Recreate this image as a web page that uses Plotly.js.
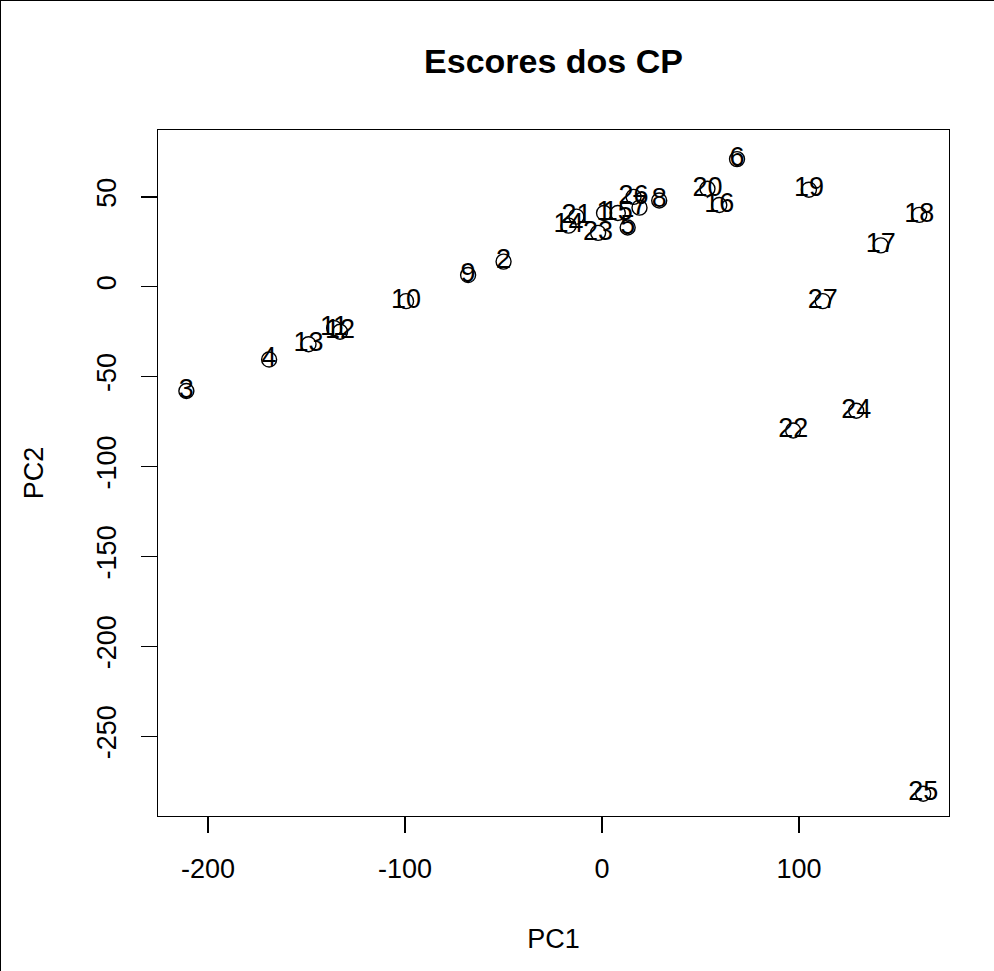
<!DOCTYPE html>
<html>
<head>
<meta charset="utf-8">
<script src="https://cdn.plot.ly/plotly-3.0.1.min.js"></script>
<style>
html,body{margin:0;padding:0;background:#fff;}
#chart{width:994px;height:971px;box-sizing:border-box;border:1px solid #000;}
</style>
</head>
<body>
<div id="chart"></div>
<script>
const labels = ["1","2","3","4","5","6","7","8","9","10","11","12","13","14","15","16","17","18","19","20","21","22","23","24","25","26","27"];
const pc1 = [1, -50, -211, -169, 13, 68.5, 19, 29, -68, -99.5, -136, -133, -149, -17, 8, 59.5, 141.5, 161, 105, 53.5, -13, 97, -2, 129, 163, 16, 112];
const pc2 = [41, 14, -58, -40.5, 33, 71, 44, 48, 6.5, -8, -23, -25, -32, 34, 41, 45.5, 23, 40, 54, 54.5, 39, -80, 30, -69, -282, 50, -8];
const xTicks = [-200, -100, 0, 100];
const yTicks = [-250, -200, -150, -100, -50, 0, 50];

const font = "Liberation Sans, Arial, sans-serif";

const trace = {
  x: pc1, y: pc2, text: labels,
  type: "scatter", mode: "markers+text",
  textposition: "middle center",
  textfont: {family: font, size: 27, color: "#000"},
  marker: {symbol: "circle-open", size: 15, color: "#000", line: {width: 1.4, color: "#000"}},
  hoverinfo: "x+y+text", cliponaxis: false
};

const axisBase = {
  showgrid: false, zeroline: false, showline: true, linecolor: "#000", linewidth: 1.3,
  mirror: true, ticks: "outside", ticklen: 16, tickwidth: 1.3, tickcolor: "#000",
  tickfont: {family: font, size: 27, color: "#000"}, tickmode: "array"
};

const layout = {
  width: 994, height: 971,
  margin: {l: 157, r: 46, t: 129, b: 156},
  paper_bgcolor: "#fff", plot_bgcolor: "#fff",
  showlegend: false,
  title: {text: "<b>Escores dos CP</b>", font: {family: font, size: 34, color: "#000"},
          x: 0.5, xref: "paper", y: 0.938, yanchor: "middle"},
  xaxis: Object.assign({}, axisBase, {
    range: [-225.4, 176.1], tickvals: xTicks, ticktext: xTicks.map(String),
    ticklabelstandoff: 12,
    title: {text: "PC1", font: {family: font, size: 27, color: "#000"}, standoff: 46}
  }),
  yaxis: Object.assign({}, axisBase, {
    range: [-294.4, 87.2], tickvals: yTicks, ticktext: yTicks.map(String),
    tickangle: -90, ticklabelstandoff: 14,
    title: {text: "PC2", font: {family: font, size: 27, color: "#000"}, standoff: 40}
  })
};

Plotly.newPlot("chart", [trace], layout, {displayModeBar: false, staticPlot: true});
</script>
</body>
</html>
